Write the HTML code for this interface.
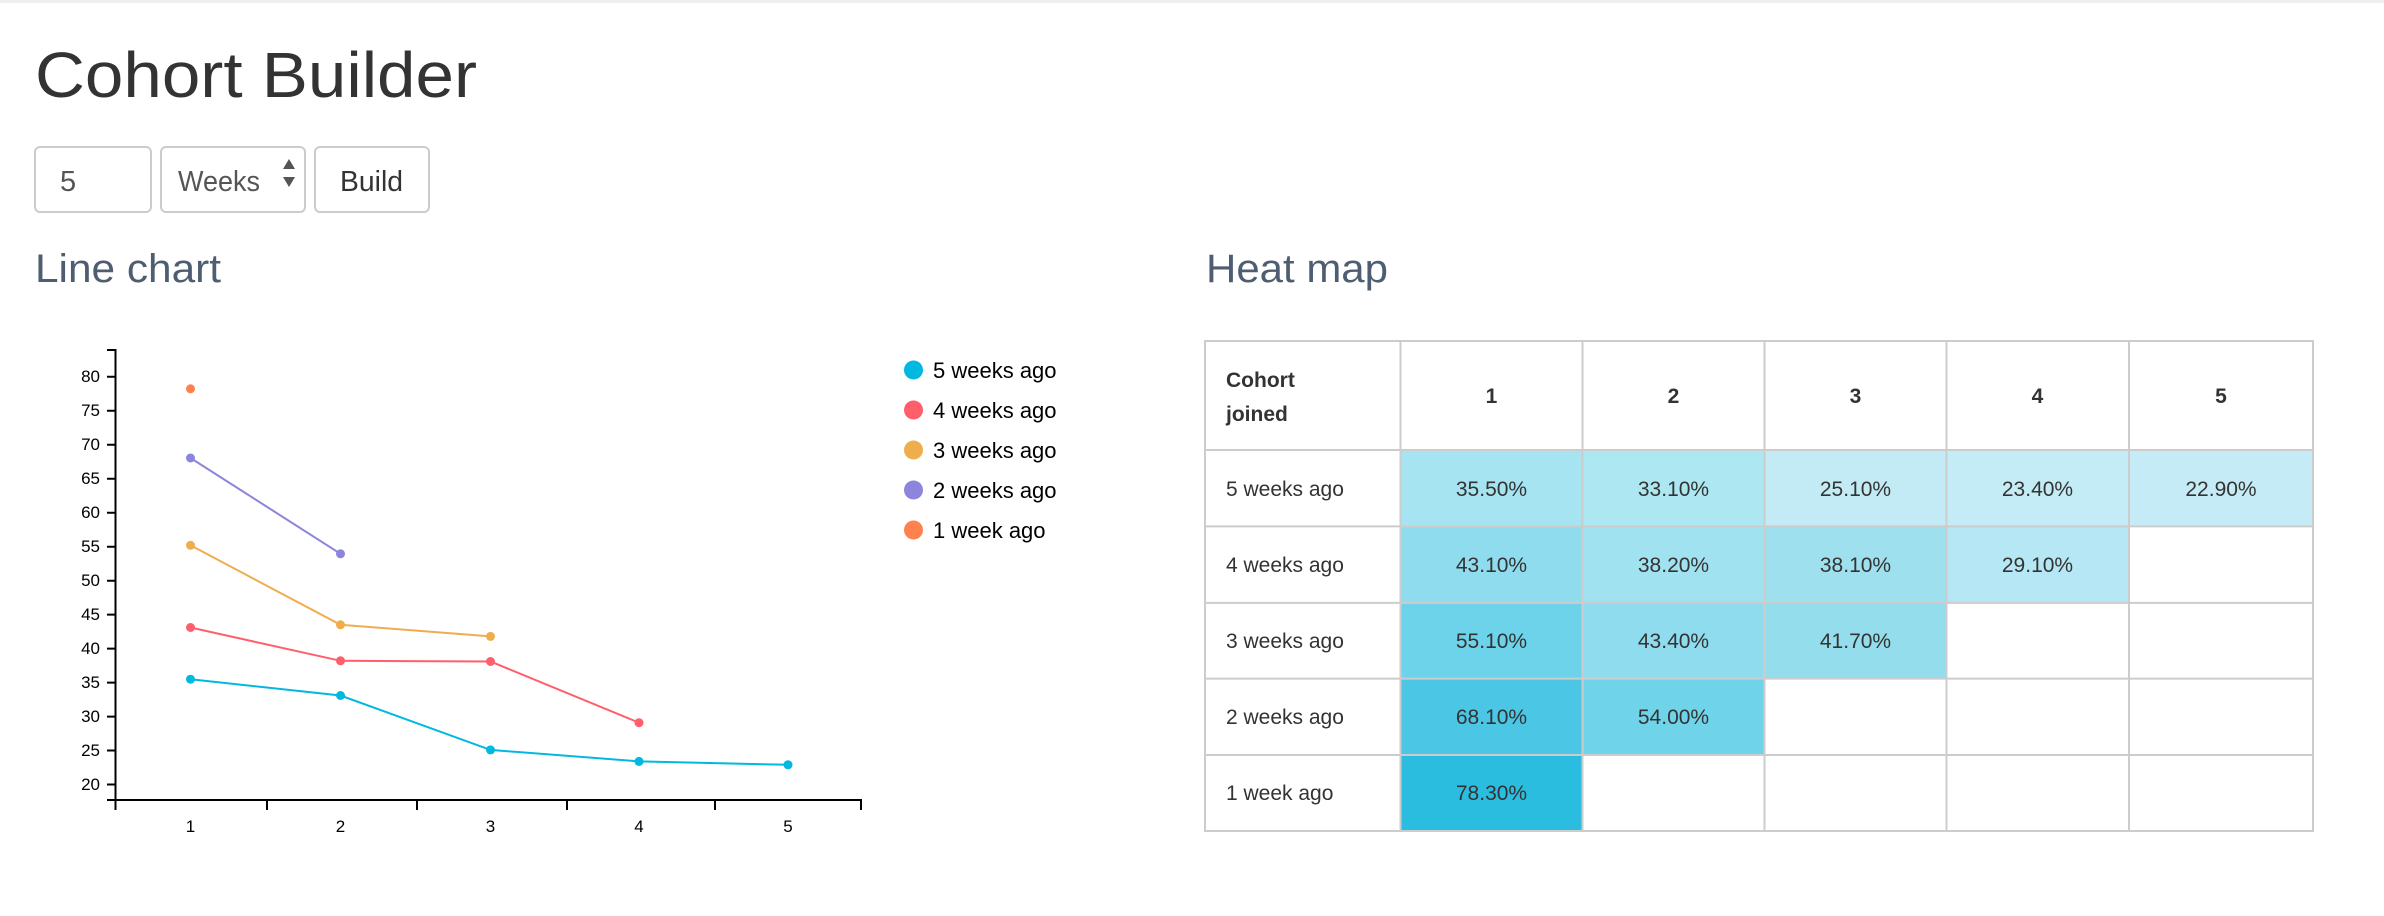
<!DOCTYPE html>
<html><head><meta charset="utf-8"><style>
html,body{margin:0;padding:0;background:#fff;}
svg{display:block;}
text{font-family:"Liberation Sans",sans-serif;}
</style></head><body>
<svg width="2384" height="916" viewBox="0 0 2384 916" xmlns="http://www.w3.org/2000/svg">
<rect x="0" y="0" width="2384" height="3" fill="#eeeeee"/>
<text x="35" y="97" font-size="64" fill="#333" textLength="442" lengthAdjust="spacingAndGlyphs">Cohort Builder</text>
<!-- controls -->
<rect x="35" y="147" width="116" height="65" rx="5" fill="#fff" stroke="#ccc" stroke-width="2"/>
<text x="60" y="191" font-size="29" fill="#555">5</text>
<rect x="161" y="147" width="144" height="65" rx="5" fill="#fff" stroke="#ccc" stroke-width="2"/>
<text x="178" y="191" font-size="29" fill="#555" textLength="82" lengthAdjust="spacingAndGlyphs">Weeks</text>
<polygon points="283,169 295,169 289,159" fill="#555"/>
<polygon points="283,177 295,177 289,187" fill="#555"/>
<rect x="315" y="147" width="114" height="65" rx="5" fill="#fff" stroke="#ccc" stroke-width="2"/>
<text x="340" y="191" font-size="29" fill="#333" textLength="63" lengthAdjust="spacingAndGlyphs">Build</text>
<text x="35" y="282" font-size="40" fill="#4e5d72" textLength="186" lengthAdjust="spacingAndGlyphs">Line chart</text>
<text x="1206" y="282" font-size="40" fill="#4e5d72" textLength="182" lengthAdjust="spacingAndGlyphs">Heat map</text>
<!-- axes -->
<g stroke="#000" stroke-width="2" fill="none">
<path d="M107,350 H115.5 V800 H107"/>
<path d="M115.5,810 V800 H861 V810"/>
<path d="M267,800 V810 M417,800 V810 M567,800 V810 M715,800 V810"/>
<path d="M107,376.8 H115.5 M107,410.8 H115.5 M107,444.8 H115.5 M107,478.7 H115.5 M107,512.7 H115.5 M107,546.7 H115.5 M107,580.7 H115.5 M107,614.6 H115.5 M107,648.6 H115.5 M107,682.6 H115.5 M107,716.6 H115.5 M107,750.5 H115.5 M107,784.5 H115.5"/>
</g>
<g font-size="17" fill="#000" text-anchor="end">
<text x="100" y="382">80</text><text x="100" y="416">75</text><text x="100" y="450">70</text><text x="100" y="484">65</text><text x="100" y="518">60</text><text x="100" y="552">55</text><text x="100" y="586">50</text><text x="100" y="620">45</text><text x="100" y="654">40</text><text x="100" y="688">35</text><text x="100" y="722">30</text><text x="100" y="756">25</text><text x="100" y="790">20</text>
</g>
<g font-size="17" fill="#000" text-anchor="middle">
<text x="190.5" y="832">1</text><text x="340.5" y="832">2</text><text x="490.5" y="832">3</text><text x="639" y="832">4</text><text x="788" y="832">5</text>
</g>
<!-- series -->
<g fill="none" stroke-width="2">
<polyline stroke="#00b8e0" points="190.5,679.2 340.5,695.5 490.5,749.9 639,761.4 788,764.8"/>
<polyline stroke="#ff5e6b" points="190.5,627.5 340.5,660.8 490.5,661.5 639,722.7"/>
<polyline stroke="#f0ad4e" points="190.5,545.3 340.5,624.8 490.5,636.4"/>
<polyline stroke="#8b85db" points="190.5,458.0 340.5,553.8"/>
</g>
<g>
<g fill="#00b8e0"><circle cx="190.5" cy="679.2" r="4.5"/><circle cx="340.5" cy="695.5" r="4.5"/><circle cx="490.5" cy="749.9" r="4.5"/><circle cx="639" cy="761.4" r="4.5"/><circle cx="788" cy="764.8" r="4.5"/></g>
<g fill="#ff5e6b"><circle cx="190.5" cy="627.5" r="4.5"/><circle cx="340.5" cy="660.8" r="4.5"/><circle cx="490.5" cy="661.5" r="4.5"/><circle cx="639" cy="722.7" r="4.5"/></g>
<g fill="#f0ad4e"><circle cx="190.5" cy="545.3" r="4.5"/><circle cx="340.5" cy="624.8" r="4.5"/><circle cx="490.5" cy="636.4" r="4.5"/></g>
<g fill="#8b85db"><circle cx="190.5" cy="458.0" r="4.5"/><circle cx="340.5" cy="553.8" r="4.5"/></g>
<circle fill="#ff8150" cx="190.5" cy="388.8" r="4.5"/>
</g>
<!-- legend -->
<g font-size="22" fill="#000">
<circle cx="913.5" cy="370" r="9.5" fill="#00b8e0"/><text x="933" y="378">5 weeks ago</text>
<circle cx="913.5" cy="410" r="9.5" fill="#ff5e6b"/><text x="933" y="418">4 weeks ago</text>
<circle cx="913.5" cy="450" r="9.5" fill="#f0ad4e"/><text x="933" y="458">3 weeks ago</text>
<circle cx="913.5" cy="490" r="9.5" fill="#8b85db"/><text x="933" y="498">2 weeks ago</text>
<circle cx="913.5" cy="530" r="9.5" fill="#ff8150"/><text x="933" y="538">1 week ago</text>
</g>
<!-- heat map cells -->
<g>
<rect x="1400.5" y="450" width="182" height="76.4" fill="#a6e4f1"/>
<rect x="1582.5" y="450" width="182" height="76.4" fill="#ade7f2"/>
<rect x="1764.5" y="450" width="182" height="76.4" fill="#c2ebf5"/>
<rect x="1946.5" y="450" width="182.5" height="76.4" fill="#c4ecf6"/>
<rect x="2129" y="450" width="184" height="76.4" fill="#c5ecf6"/>
<rect x="1400.5" y="526.4" width="182" height="76.5" fill="#90dcef"/>
<rect x="1582.5" y="526.4" width="182" height="76.5" fill="#a1e2f1"/>
<rect x="1764.5" y="526.4" width="182" height="76.5" fill="#9fe0ef"/>
<rect x="1946.5" y="526.4" width="182.5" height="76.5" fill="#b5e7f4"/>
<rect x="1400.5" y="602.9" width="182" height="75.7" fill="#6dd3ea"/>
<rect x="1582.5" y="602.9" width="182" height="75.7" fill="#8fdcef"/>
<rect x="1764.5" y="602.9" width="182" height="75.7" fill="#93dded"/>
<rect x="1400.5" y="678.6" width="182" height="76.4" fill="#4bc6e5"/>
<rect x="1582.5" y="678.6" width="182" height="76.4" fill="#6fd4ea"/>
<rect x="1400.5" y="755" width="182" height="76" fill="#2bbde0"/>
</g>
<g stroke="#cccccc" stroke-width="2" fill="none">
<rect x="1205" y="341" width="1108" height="490"/>
<path d="M1205,450 H2313 M1205,526.4 H2313 M1205,602.9 H2313 M1205,678.6 H2313 M1205,755 H2313"/>
<path d="M1400.5,341 V831 M1582.5,341 V831 M1764.5,341 V831 M1946.5,341 V831 M2129,341 V831"/>
</g>
<g font-size="21" fill="#333" font-weight="bold">
<text x="1226" y="387">Cohort</text><text x="1226" y="421">joined</text>
</g>
<g font-size="21" fill="#333" font-weight="bold" text-anchor="middle">
<text x="1491.5" y="403">1</text><text x="1673.5" y="403">2</text><text x="1855.5" y="403">3</text><text x="2037.5" y="403">4</text><text x="2221" y="403">5</text>
</g>
<g font-size="21" fill="#333">
<text x="1226" y="496">5 weeks ago</text>
<text x="1226" y="572">4 weeks ago</text>
<text x="1226" y="648">3 weeks ago</text>
<text x="1226" y="724">2 weeks ago</text>
<text x="1226" y="800">1 week ago</text>
</g>
<g font-size="21" fill="#333" text-anchor="middle">
<text x="1491.5" y="496">35.50%</text><text x="1673.5" y="496">33.10%</text><text x="1855.5" y="496">25.10%</text><text x="2037.5" y="496">23.40%</text><text x="2221" y="496">22.90%</text>
<text x="1491.5" y="572">43.10%</text><text x="1673.5" y="572">38.20%</text><text x="1855.5" y="572">38.10%</text><text x="2037.5" y="572">29.10%</text>
<text x="1491.5" y="648">55.10%</text><text x="1673.5" y="648">43.40%</text><text x="1855.5" y="648">41.70%</text>
<text x="1491.5" y="724">68.10%</text><text x="1673.5" y="724">54.00%</text>
<text x="1491.5" y="800">78.30%</text>
</g>
</svg>
</body></html>
